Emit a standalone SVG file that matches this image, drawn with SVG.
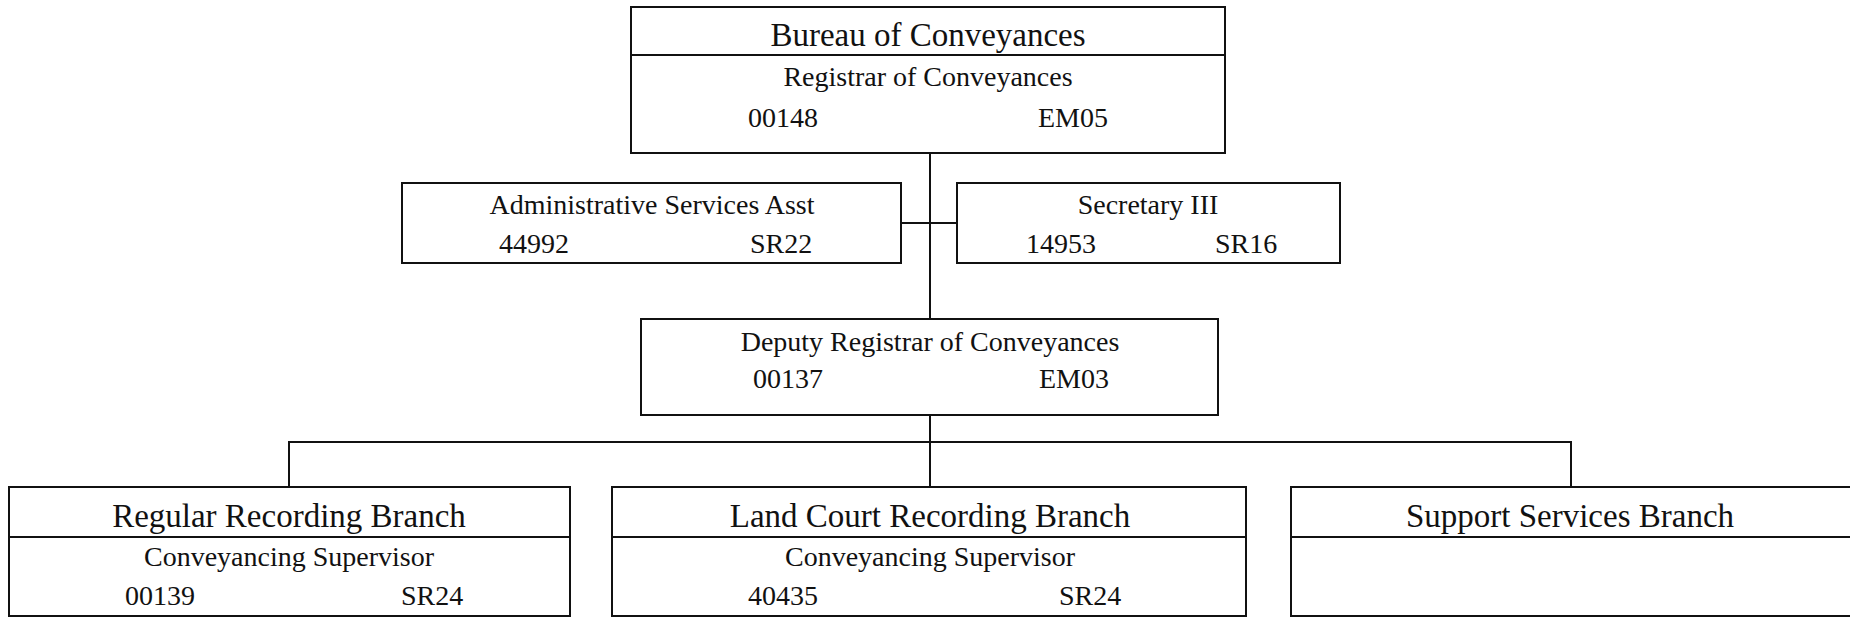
<svg xmlns="http://www.w3.org/2000/svg" width="1850" height="618" viewBox="0 0 1850 618">
<style>
.box{fill:#fff;stroke:#111;stroke-width:2}
.div{stroke:#111;stroke-width:2}
.con{stroke:#111;stroke-width:2;fill:none}
text{font-family:"Liberation Serif","Times New Roman",serif;fill:#111}
.t{font-size:33px;text-anchor:middle}
.s{font-size:28px;text-anchor:middle}
.c{font-size:28px}
</style>
<rect width="1850" height="618" fill="#fff"/>
<g id="connectors">
<line class="con" x1="930" y1="153" x2="930" y2="319"/>
<line class="con" x1="901" y1="223" x2="957" y2="223"/>
<line class="con" x1="930" y1="415" x2="930" y2="487"/>
<polyline class="con" points="289,487 289,442 1571,442 1571,487"/>
</g>
<g id="bureau">
<rect class="box" x="631" y="7" width="594" height="146"/>
<line class="div" x1="631" y1="55" x2="1225" y2="55"/>
<text class="t" x="928" y="46">Bureau of Conveyances</text>
<text class="s" x="928" y="86">Registrar of Conveyances</text>
<text class="c" x="748" y="127">00148</text>
<text class="c" x="1038" y="127">EM05</text>
</g>
<g id="admin">
<rect class="box" x="402" y="183" width="499" height="80"/>
<text class="s" x="652" y="214">Administrative Services Asst</text>
<text class="c" x="499" y="253">44992</text>
<text class="c" x="750" y="253">SR22</text>
</g>
<g id="secretary">
<rect class="box" x="957" y="183" width="383" height="80"/>
<text class="s" x="1148" y="214">Secretary III</text>
<text class="c" x="1026" y="253">14953</text>
<text class="c" x="1215" y="253">SR16</text>
</g>
<g id="deputy">
<rect class="box" x="641" y="319" width="577" height="96"/>
<text class="s" x="930" y="351">Deputy Registrar of Conveyances</text>
<text class="c" x="753" y="388">00137</text>
<text class="c" x="1039" y="388">EM03</text>
</g>
<g id="regular">
<rect class="box" x="9" y="487" width="561" height="129"/>
<line class="div" x1="9" y1="537" x2="570" y2="537"/>
<text class="t" x="289" y="527">Regular Recording Branch</text>
<text class="s" x="289" y="566">Conveyancing Supervisor</text>
<text class="c" x="125" y="605">00139</text>
<text class="c" x="401" y="605">SR24</text>
</g>
<g id="landcourt">
<rect class="box" x="612" y="487" width="634" height="129"/>
<line class="div" x1="612" y1="537" x2="1246" y2="537"/>
<text class="t" x="930" y="527">Land Court Recording Branch</text>
<text class="s" x="930" y="566">Conveyancing Supervisor</text>
<text class="c" x="748" y="605">40435</text>
<text class="c" x="1059" y="605">SR24</text>
</g>
<g id="support">
<rect class="box" x="1291" y="487" width="562" height="129"/>
<line class="div" x1="1291" y1="537" x2="1852" y2="537"/>
<text class="t" x="1570" y="527">Support Services Branch</text>
</g>
</svg>
